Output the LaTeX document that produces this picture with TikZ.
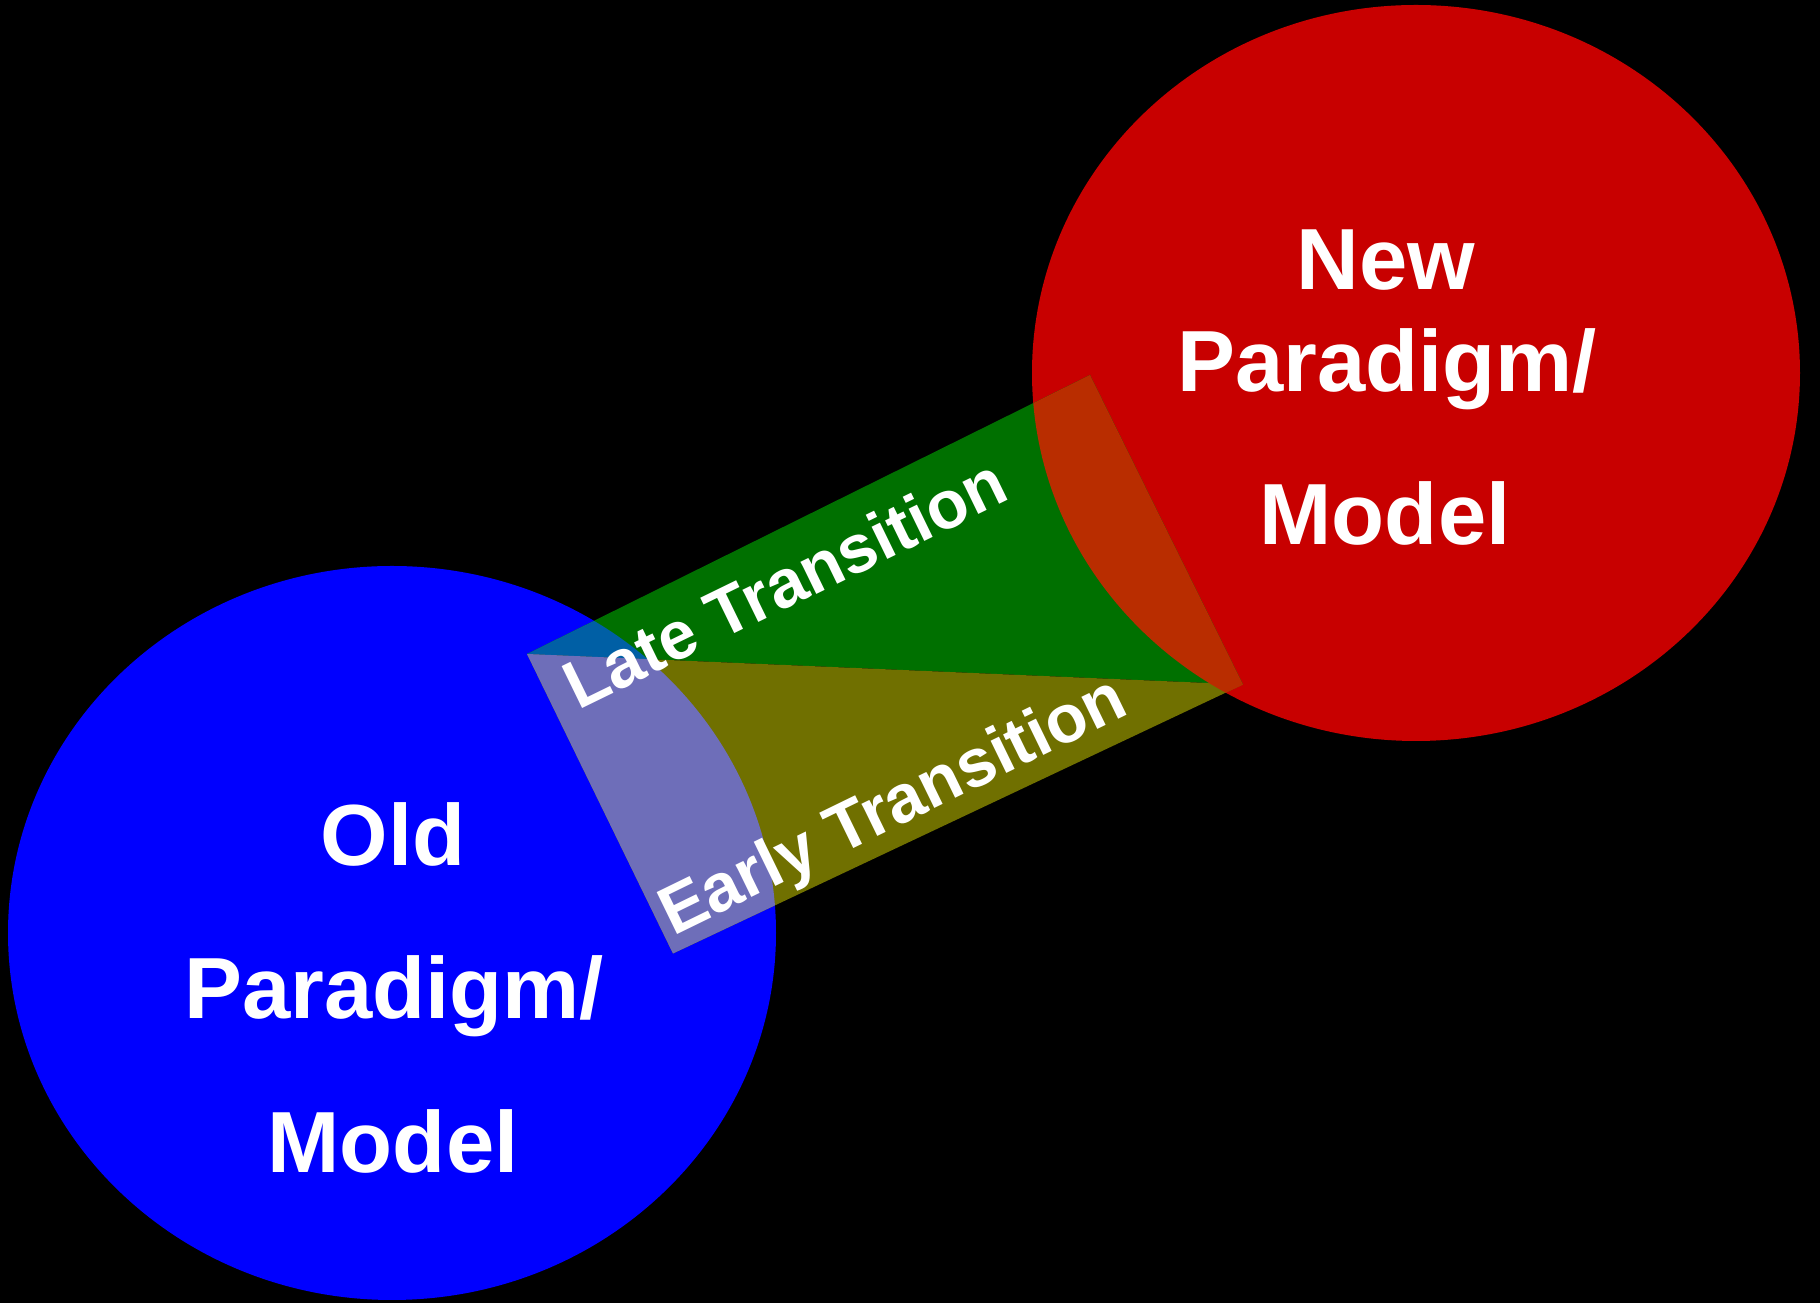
\documentclass[tikz,border=0pt]{standalone}
\usepackage{fontspec}
\setmainfont{Liberation Sans}
\usepackage{tikz}
\usetikzlibrary{positioning}
\definecolor{oldblue}{RGB}{0,0,255}
\definecolor{newred}{RGB}{200,0,0}
\definecolor{lategreen}{RGB}{0,112,0}
\definecolor{earlyolive}{RGB}{112,112,0}
\definecolor{lateold}{RGB}{0,95,165}
\definecolor{earlyold}{RGB}{110,110,185}
\definecolor{bandnew}{RGB}{185,45,0}
\tikzstyle{bigtext} = [text=white, font=\bfseries\fontsize{24.7}{30}\selectfont, anchor=base, inner sep=0pt]
\tikzstyle{bandtext} = [text=white, font=\bfseries\fontsize{19.3}{23}\selectfont, anchor=base, inner sep=0pt, rotate=26]

\begin{document}
\begin{tikzpicture}
        \fill[black] (0,0) rectangle (18.2,-13.03);
        \useasboundingbox (0,0) rectangle (18.2,-13.03);

        % the two paradigms
        \fill[oldblue] (3.92,-9.33) ellipse [x radius=3.84, y radius=3.67];
        \fill[newred]  (14.16,-3.73) ellipse [x radius=3.84, y radius=3.68];

        % transition band
        \coordinate (a) at (5.27,-6.54);
        \coordinate (b) at (10.90,-3.75);
        \coordinate (c) at (12.43,-6.845);
        \coordinate (d) at (6.73,-9.535);
        \fill[lategreen]  (a) -- (b) -- (c) -- cycle;
        \fill[earlyolive] (a) -- (c) -- (d) -- cycle;
        \begin{scope}
            \clip (3.92,-9.33) ellipse [x radius=3.84, y radius=3.67];
            \fill[lateold]  (a) -- (b) -- (c) -- cycle;
            \fill[earlyold] (a) -- (c) -- (d) -- cycle;
        \end{scope}
        \begin{scope}
            \clip (14.16,-3.73) ellipse [x radius=3.84, y radius=3.68];
            \fill[bandnew] (a) -- (b) -- (c) -- (d) -- cycle;
        \end{scope}

        \node[bigtext] (new 1) at (13.86,-2.90)  {New};
        \node[bigtext] (new 2) at (13.87,-3.92)  {Paradigm/};
        \node[bigtext] (new 3) at (13.85,-5.45)  {Model};
        \node[bigtext] (old 1) at (3.93,-8.66)   {Old};
        \node[bigtext] (old 2) at (3.94,-10.19)  {Paradigm/};
        \node[bigtext] (old 3) at (3.93,-11.73)  {Model};

        \node[bandtext] (late)  at (7.95,-6.045) {Late Transition};
        \node[bandtext] (early) at (9.02,-8.247) {Early Transition};
\end{tikzpicture}
\end{document}
